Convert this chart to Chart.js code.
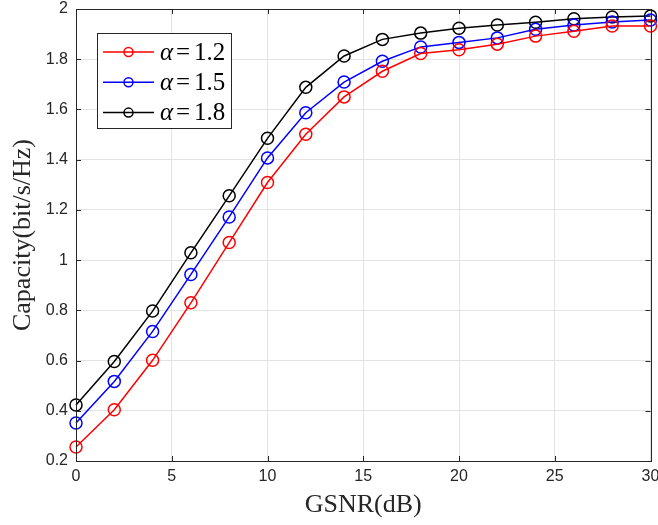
<!DOCTYPE html>
<html><head><meta charset="utf-8">
<script src="https://cdn.jsdelivr.net/npm/chart.js@4"></script>
<style>html,body{margin:0;padding:0;background:#fff}#wrap{width:658px;height:525px}</style>
</head><body><div id="wrap"><canvas id="c" width="658" height="525"></canvas></div>
<script>
const gsnr = [0, 2, 4, 6, 8, 10, 12, 14, 16, 18, 20, 22, 24, 26, 28, 30];
const alpha12 = [0.256, 0.404, 0.601, 0.830, 1.070, 1.309, 1.501, 1.650, 1.752, 1.823, 1.838, 1.860, 1.892, 1.911, 1.932, 1.932];
const alpha15 = [0.351, 0.517, 0.716, 0.943, 1.172, 1.407, 1.587, 1.709, 1.792, 1.849, 1.867, 1.885, 1.919, 1.936, 1.948, 1.956];
const alpha18 = [0.423, 0.596, 0.797, 1.029, 1.256, 1.485, 1.688, 1.813, 1.879, 1.904, 1.923, 1.936, 1.947, 1.961, 1.968, 1.972];
const seriesValues = ['1.2', '1.5', '1.8'];
const seriesColors = ['#ff0000', '#0000ff', '#000000'];
const xTicks = [0, 5, 10, 15, 20, 25, 30];
const yTicks = [0.2, 0.4, 0.6, 0.8, 1, 1.2, 1.4, 1.6, 1.8, 2];
const xTitle = 'GSNR(dB)';
const yTitle = 'Capacity(bit/s/Hz)';

const AX = '#262626';
const serif = "'Liberation Serif', 'Times New Roman', serif";
const sans = "'Liberation Sans', Arial, sans-serif";

function mkDs(vals, i) {
  return {
    label: 'α=' + seriesValues[i],
    data: gsnr.map((x, k) => ({x: x, y: vals[k]})),
    borderColor: seriesColors[i],
    backgroundColor: 'rgba(0,0,0,0)',
    borderWidth: 1.5,
    pointRadius: 6,
    pointHoverRadius: 6,
    pointBorderWidth: 1.5,
    pointBackgroundColor: 'rgba(0,0,0,0)',
    pointBorderColor: seriesColors[i],
    tension: 0,
    clip: false
  };
}

const boxPlugin = {
  id: 'boxPlugin',
  afterDatasetsDraw(chart) {
    const ctx = chart.ctx, a = chart.chartArea;
    const xs = chart.scales.x, ys = chart.scales.y;
    ctx.save();
    ctx.strokeStyle = AX; ctx.lineWidth = 1;
    ctx.beginPath();
    xTicks.forEach(v => {
      const px = Math.round(xs.getPixelForValue(v)) + 0.5;
      ctx.moveTo(px, a.bottom); ctx.lineTo(px, a.bottom - 5);
      ctx.moveTo(px, a.top); ctx.lineTo(px, a.top + 5);
    });
    yTicks.forEach(v => {
      const py = Math.round(ys.getPixelForValue(v)) + 0.5;
      ctx.moveTo(a.left, py); ctx.lineTo(a.left + 5, py);
      ctx.moveTo(a.right, py); ctx.lineTo(a.right - 5, py);
    });
    ctx.stroke();
    ctx.strokeRect(Math.round(a.left) + 0.5, Math.round(a.top) + 0.5, Math.round(a.right - a.left), Math.round(a.bottom - a.top));
    ctx.restore();
  },
  afterDraw(chart) {
    const ctx = chart.ctx;
    ctx.save();
    const bx = 97.5, by = 33.5, bw = 134, bh = 95;
    ctx.fillStyle = '#fff';
    ctx.fillRect(bx, by, bw, bh);
    ctx.strokeStyle = AX; ctx.lineWidth = 1;
    ctx.strokeRect(bx, by, bw, bh);
    chart.data.datasets.forEach((ds, i) => {
      const cy = 52 + i * 30.3;
      ctx.strokeStyle = ds.borderColor; ctx.lineWidth = 1.5;
      ctx.beginPath(); ctx.moveTo(103, cy); ctx.lineTo(154, cy); ctx.stroke();
      ctx.beginPath(); ctx.arc(128.5, cy, 4.5, 0, Math.PI * 2); ctx.stroke();
      ctx.fillStyle = '#000';
      ctx.textBaseline = 'middle'; ctx.textAlign = 'left';
      ctx.font = 'italic 25px ' + serif;
      ctx.fillText('α', 160, cy + 1);
      ctx.font = '25px ' + serif;
      ctx.fillText('=', 176, cy + 1);
      ctx.fillText(seriesValues[i], 194, cy + 1);
    });
    ctx.restore();
  }
};

new Chart(document.getElementById('c'), {
  type: 'line',
  data: { datasets: [mkDs(alpha12, 0), mkDs(alpha15, 1), mkDs(alpha18, 2)] },
  options: {
    responsive: false,
    animation: false,
    devicePixelRatio: 1,
    layout: { padding: { top: 9, right: 7, left: 0, bottom: 0 } },
    plugins: { legend: { display: false }, tooltip: { enabled: false } },
    scales: {
      x: {
        type: 'linear', min: 0, max: 30,
        afterBuildTicks: s => { s.ticks = xTicks.map(v => ({value: v})); },
        afterFit: s => { s.height = 64; s.paddingLeft = 0; s.paddingRight = 0; },
        ticks: { color: AX, font: { family: sans, size: 16 }, padding: 6, maxRotation: 0, callback: v => String(v) },
        grid: { color: '#e3e3e3', lineWidth: 1, drawTicks: false },
        border: { display: false },
        title: { display: true, text: xTitle, color: AX, font: { family: serif, size: 26 }, padding: { top: 2, bottom: 4 } }
      },
      y: {
        type: 'linear', min: 0.2, max: 2,
        afterBuildTicks: s => { s.ticks = yTicks.map(v => ({value: v})); },
        afterFit: s => { s.width = 76; s.paddingTop = 0; s.paddingBottom = 0; },
        ticks: { color: AX, font: { family: sans, size: 16 }, padding: 8, callback: v => String(+(+v).toFixed(1)) },
        grid: { color: '#e3e3e3', lineWidth: 1, drawTicks: false },
        border: { display: false },
        title: { display: true, text: yTitle, color: AX, font: { family: serif, size: 26 }, padding: { top: 8, bottom: 2 } }
      }
    }
  },
  plugins: [boxPlugin]
});
</script></body></html>
